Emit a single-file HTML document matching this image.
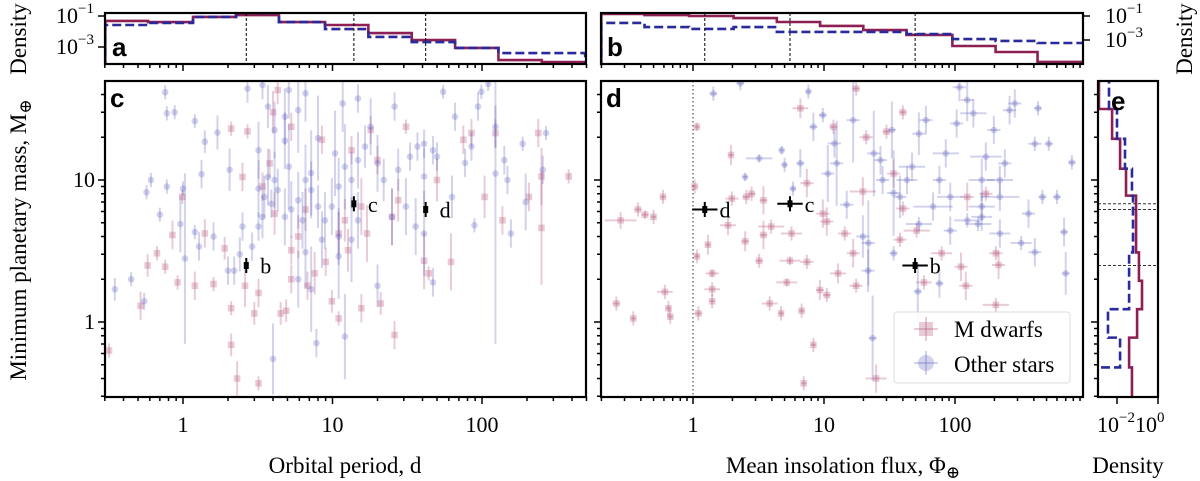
<!DOCTYPE html>
<html><head><meta charset="utf-8"><style>
html,body{margin:0;padding:0;background:#fff;}
svg{display:block;font-family:"Liberation Serif","DejaVu Serif",serif;}
svg text{font-family:"Liberation Serif","DejaVu Serif",serif;fill:#000;}
svg text.lt{font-family:"Liberation Sans","DejaVu Sans",sans-serif;font-weight:bold;}
</style></head><body>
<svg id="fig" width="1200" height="481" viewBox="0 0 1200 481" xmlns="http://www.w3.org/2000/svg" font-family="Liberation Serif, serif">
<defs>
<clipPath id="clipA"><rect x="105" y="13" width="481" height="51"/></clipPath>
<clipPath id="clipB"><rect x="601" y="13" width="482" height="51"/></clipPath>
<clipPath id="clipC"><rect x="105" y="81" width="481" height="316"/></clipPath>
<clipPath id="clipD"><rect x="601" y="81" width="482" height="316"/></clipPath>
<clipPath id="clipE"><rect x="1098" y="81" width="60" height="316"/></clipPath>
</defs>
<g id="layer"></g>
<text font-family="Liberation Serif, serif" transform="translate(26,240) rotate(-90)" text-anchor="middle" font-size="23">Minimum planetary mass, M<tspan font-size="17" dy="5">⊕</tspan></text>
<text font-family="Liberation Serif, serif" transform="translate(26,39) rotate(-90)" text-anchor="middle" font-size="23">Density</text>
<text font-family="Liberation Serif, serif" transform="translate(1192,39) rotate(-90)" text-anchor="middle" font-size="23">Density</text>
<text font-family="Liberation Serif, serif" x="345" y="473" text-anchor="middle" font-size="23">Orbital period, d</text>
<text font-family="Liberation Serif, serif" x="843" y="473" text-anchor="middle" font-size="23">Mean insolation flux, Φ<tspan font-size="17" dy="5">⊕</tspan></text>
<text font-family="Liberation Serif, serif" x="1128" y="473" text-anchor="middle" font-size="23">Density</text>
</svg>
<script>
// ---------- data ----------
const histEdgesA = [-0.52,-0.234,0.067,0.355,0.642,0.95,1.24,1.53,1.82,2.11,2.40,2.69]; // log10 period
const histMdwarfA = [-1.32,-1.39,-1.06,-0.94,-1.39,-1.58,-2.1,-2.55,-3.06,-3.84,-3.97]; // log10 density
const histOtherA = [-1.58,-1.45,-1.06,-0.81,-1.39,-1.84,-2.35,-2.68,-3.06,-3.39,-3.39];
const histEdgesB = [-0.70,-0.37,-0.03,0.31,0.64,0.97,1.30,1.63,1.98,2.31,2.63,2.98]; // log10 flux
const histMdwarfB = [-0.83,-0.92,-1.0,-1.17,-1.5,-1.83,-2.17,-2.58,-3.5,-4.0,-4.83];
const histOtherB = [-1.58,-1.92,-2.08,-1.92,-2.33,-2.33,-2.33,-2.5,-2.92,-3.08,-3.25];
const histEdgesE = [1.70,1.50,1.29,1.08,0.89,0.69,0.49,0.29,0.09,-0.11,-0.32,-0.53]; // log10 mass
const histMdwarfE = [-2.88,-2.24,-1.85,-1.56,-1.07,-1.07,-0.93,-0.78,-1.02,-1.41,-1.27];
const histOtherE = [-2.39,-2.0,-1.61,-1.27,-1.22,-1.22,-1.41,-1.41,-2.44,-1.85,-3.2];
const planetNames = ["b","c","d"];
const planetPeriod = [2.65,13.9,42];
const planetFlux = [49.6,5.5,1.23];
const planetMass = [2.5,6.8,6.2];
// [period, mass, massErrDex]
const otherC = [[0.76,41.5,0.05],[0.78,29.5,0.05],[0.88,30,0.05],[1.2,26,0.05],[1.7,21.6,0.12],[1.4,18.6,0.08],[1.33,11,0.1],[2.05,11.8,0.15],[0.61,10,0.05],[0.57,8.2,0.05],[0.78,9,0.05],[1.0,8.7,0.05],[0.7,5.7,0.05],[0.96,4.9,0.2],[1.2,4.3,0.05],[1.03,2.8,0.6],[0.45,2.0,0.05],[0.35,1.7,0.08],[0.55,1.4,0.06],[1.28,3.4,0.1],[1.6,4.0,0.1],[2.0,2.3,0.1],[2.2,2.3,0.1],[2.4,3.0,0.12],[2.9,3.4,0.1],[3.2,4.7,0.1],[3.4,5.5,0.15],[2.5,4.7,0.1],[3.2,8.7,0.2],[3.5,7.6,0.15],[3.7,10.5,0.2],[4.1,10,0.2],[4.3,8.5,0.15],[3.9,6.8,0.1],[4.8,5.5,0.2],[5.3,6.2,0.2],[5.9,7.2,0.2],[6.6,10,0.25],[7.2,8.5,0.2],[8.0,6.5,0.15],[8.9,5.2,0.2],[9.9,6.5,0.2],[11,9,0.2],[12.1,12.4,0.3],[13.4,10,0.2],[14.8,13.8,0.2],[16.5,17.2,0.15],[18,23.7,0.2],[20,13.1,0.2],[22,10,0.15],[14.8,5.2,0.2],[11,4.0,0.2],[8.5,3.8,0.2],[6.6,3.1,0.25],[5.9,2.0,0.2],[7.2,1.7,0.3],[12.1,0.79,0.3],[7.8,0.71,0.1],[4.0,0.55,0.25],[20,1.8,0.15],[27.5,11.8,0.15],[33,14.6,0.1],[37,17.2,0.1],[41,18,0.1],[47,16.2,0.1],[50,14.6,0.1],[41,10.6,0.2],[41,4.2,0.3],[66,27.9,0.1],[77,13.2,0.1],[85,17.2,0.1],[94,32.9,0.1],[99,41.8,0.05],[110,47.5,0.05],[123,23.7,0.15],[123,11.1,1.2],[141,13.8,0.1],[148,10,0.1],[156,4.2,0.1],[187,18,0.05],[268,21.4,0.05],[255,11.8,0.1],[196,7.0,0.2],[89,4.8,0.05],[55,41.8,0.05],[26,32.9,0.1],[14.8,37.5,0.1],[11.7,34.6,0.2],[6.6,40.8,0.2],[5.1,43,0.2],[3.4,46.6,0.1],[2.7,44,0.1],[3.7,32.9,0.15],[4.1,22.5,0.2],[4.8,27.9,0.2],[5.9,31,0.3],[8.0,19.7,0.3],[10.4,15.4,0.3],[4.8,18.9,0.2],[3.2,16.2,0.2],[5.1,12.4,0.3],[7.2,11.2,0.3],[6.3,5.2,0.2],[11,2.9,0.3],[13.4,3.8,0.3],[25,5.5,0.2],[31,6.5,0.2],[36,4.7,0.2],[47,1.9,0.1],[63,7.6,0.15]];
const mdwarfC = [[0.32,0.63,0.05],[0.52,1.3,0.1],[0.58,2.5,0.08],[0.67,3.05,0.05],[0.76,2.45,0.05],[0.85,4.1,0.1],[0.92,1.9,0.05],[0.99,7.6,0.05],[1.2,1.8,0.1],[1.4,4.2,0.1],[1.6,1.85,0.05],[1.9,3.3,0.08],[2.1,1.25,0.05],[2.1,0.69,0.08],[2.3,0.40,0.12],[2.1,23,0.05],[2.7,22,0.05],[2.5,10.5,0.1],[2.6,1.8,0.15],[3.0,1.15,0.08],[3.2,1.6,0.1],[3.2,0.37,0.05],[3.8,13.1,0.1],[4.0,30,0.15],[4.3,43,0.1],[4.5,1.15,0.08],[4.9,1.2,0.08],[5.3,2.0,0.1],[5.3,3.2,0.1],[5.9,4.0,0.15],[6.8,1.8,0.1],[7.6,2.2,0.15],[8.5,19.2,0.1],[9.0,2.65,0.1],[9.9,1.4,0.08],[11,1.06,0.05],[11,4.2,0.15],[12.1,5.2,0.15],[12.7,3.2,0.15],[13.4,16.2,0.1],[15.6,6.5,0.2],[15.6,1.25,0.1],[17,4.2,0.2],[18,22.5,0.1],[20,13.8,0.1],[21,1.35,0.08],[25,5.5,0.2],[26,0.81,0.1],[27.5,7.2,0.15],[31,23.7,0.05],[41,2.7,0.2],[44,2.2,0.05],[50,10,0.15],[62,2.65,0.2],[75,19.2,0.1],[85,21.4,0.1],[104,7.6,0.15],[123,21.4,0.1],[137,5.2,0.1],[206,7.6,0.1],[238,21.4,0.1],[250,10.6,0.2],[250,4.6,0.4],[380,10.6,0.05],[6.6,6.2,0.15],[5.3,23.7,0.1],[3.4,9,0.1],[4.1,5.8,0.15]];
// [flux, mass, massErrDex, fluxErrDex]
const mdwarfD = [[0.28,5.2,0.06,0.12],[0.26,1.35,0.05,0.03],[0.35,1.06,0.05,0.02],[0.38,6.2,0.05,0.03],[0.43,5.7,0.03,0.03],[0.5,5.5,0.05,0.02],[0.59,7.6,0.05,0.02],[0.61,1.63,0.05,0.06],[0.67,1.09,0.05,0.02],[0.65,1.25,0.05,0.02],[1.07,23.7,0.03,0.02],[1.03,9,0.05,0.02],[1.07,2.9,0.05,0.02],[1.1,1.15,0.05,0.03],[1.3,3.5,0.07,0.02],[1.4,2.2,0.03,0.05],[1.4,1.7,0.05,0.06],[1.4,1.4,0.05,0.02],[1.85,4.8,0.07,0.06],[1.95,15,0.07,0.02],[1.98,7.4,0.05,0.05],[2.5,3.7,0.07,0.03],[2.55,7.6,0.05,0.03],[2.8,8.0,0.05,0.03],[3.2,2.7,0.05,0.03],[3.45,7.2,0.1,0.03],[3.45,4.1,0.1,0.03],[3.85,1.35,0.05,0.06],[3.95,4.7,0.05,0.1],[4.7,1.15,0.05,0.02],[5.2,1.9,0.03,0.08],[5.5,2.7,0.03,0.08],[5.65,4.2,0.05,0.08],[6.6,32,0.07,0.06],[6.75,1.2,0.05,0.02],[7.4,9.5,0.1,0.05],[7.4,2.65,0.05,0.05],[8.3,0.69,0.05,0.02],[9.3,1.68,0.07,0.03],[9.8,5.8,0.1,0.05],[10.5,1.55,0.05,0.03],[10.5,5.1,0.1,0.05],[11.8,23.7,0.05,0.03],[12.8,2.2,0.07,0.06],[14.4,4.2,0.05,0.05],[16.7,3.05,0.1,0.05],[17.6,44,0.05,0.03],[17.6,1.8,0.05,0.05],[19.8,8.3,0.1,0.1],[21,20,0.05,0.05],[25,0.40,0.1,0.08],[30,21.9,0.05,0.03],[38,3.8,0.05,0.05],[40,6.3,0.05,0.05],[51,4.4,0.05,0.1],[58,1.9,0.05,0.06],[79,3.05,0.05,0.08],[111,2.45,0.1,0.05],[121,1.8,0.1,0.05],[124,7.6,0.1,0.05],[172,8.0,0.05,0.05],[205,3.05,0.05,0.05],[205,1.32,0.05,0.1],[215,2.52,0.1,0.05],[7.0,0.37,0.05,0.02],[34,11.1,0.1,0.05],[40,30,0.05,0.03]];
const otherD = [[1.43,40.6,0.05,0.03],[2.3,48,0.05,0.03],[3.2,14.2,0.03,0.1],[2.5,10.5,0.03,0.02],[4.75,16.2,0.03,0.02],[5.0,12.8,0.05,0.02],[5.8,8.7,0.05,0.02],[6.6,13.1,0.1,0.03],[7.6,42,0.05,0.02],[8.3,23.7,0.1,0.03],[9.8,28.6,0.05,0.03],[10.7,11.1,0.2,0.05],[12,18.1,0.1,0.05],[12.5,13.1,0.3,0.05],[14.9,6.7,0.1,0.05],[16.7,26.4,0.3,0.05],[19.8,4.0,0.15,0.05],[21.8,3.6,0.3,0.05],[24,15.4,0.3,0.05],[27,13.8,0.1,0.05],[28,10,0.1,0.05],[33,22.5,0.2,0.03],[34,8.1,0.3,0.05],[34,3.05,0.05,0.03],[38,7.6,0.15,0.05],[43,10,0.1,0.08],[47,12.4,0.1,0.1],[53,21.2,0.15,0.05],[60,26.4,0.1,0.05],[68,6.5,0.1,0.15],[76,10,0.1,0.05],[85,15.4,0.1,0.1],[92,4.4,0.1,0.05],[103,25,0.1,0.05],[108,45,0.1,0.05],[124,36.6,0.15,0.05],[138,29.5,0.1,0.1],[160,6.5,0.1,0.1],[172,14.6,0.1,0.12],[198,22.5,0.1,0.05],[220,10,0.1,0.1],[240,13.1,0.1,0.05],[261,31,0.1,0.05],[286,34.6,0.1,0.05],[320,3.6,0.05,0.08],[364,5.8,0.1,0.05],[407,3.1,0.1,0.05],[407,18,0.05,0.05],[430,32,0.05,0.03],[465,7.6,0.05,0.03],[520,18,0.05,0.03],[600,7.6,0.05,0.03],[680,4.3,0.1,0.03],[700,2.2,0.15,0.03],[780,13.3,0.05,0.03],[23.5,0.77,0.3,0.03],[21.7,2.3,0.15,0.05],[52,1.64,0.2,0.03],[76,1.87,0.1,0.03],[160,5.5,0.1,0.08],[220,4.2,0.1,0.08],[150,4.9,0.05,0.1],[124,5.2,0.05,0.1],[53,4.9,0.05,0.1],[92,7.6,0.1,0.1],[220,7.6,0.1,0.15],[160,10,0.15,0.1]];

// ---------- scales ----------
const L = Math.log10;
const xC = p => 183 + 149.5*L(p);
const xD = f => 693 + 131*L(f);
const yM = m => 322 - 142*L(m);
const yA = ld => 16 - 15.5*(ld+1);
const yB = ld => 16 - 12*(ld+1);
const xE = ld => 1117 + 20.5*(ld+2);
const xAe = le => 183 + 149.5*le;
const xBe = le => 693 + 131*le;
const yEe = le => 322 - 142*le;

const NS="http://www.w3.org/2000/svg";
const root=document.getElementById('layer');
const SERIF="Liberation Serif, serif";
function mk(tag,attrs,parent){const e=document.createElementNS(NS,tag);for(const k in attrs)e.setAttribute(k,attrs[k]);if(tag==='text'&&!attrs['font-family'])e.setAttribute('font-family',SERIF);(parent||root).appendChild(e);return e;}

const RED="#8e1f52", BLUE="#2a2a9c";
const PINK="rgba(176,70,110,0.28)", LBLUE="rgba(90,90,190,0.27)";

function panel(name,clip){const g=mk('g',{'clip-path':'url(#'+clip+')'});return g;}
const gA=panel('panel-a-period-histogram','clipA');
const gB=panel('panel-b-insolation-histogram','clipB');
const gC=panel('panel-c-mass-period-scatter','clipC');
const gD=panel('panel-d-mass-insolation-scatter','clipD');
const gE=panel('panel-e-mass-histogram','clipE');

function stepH(edges,vals,xf,yf,base,g,color,dash,name){
  let d='M'+xf(edges[0])+','+base;
  for(let i=0;i<vals.length;i++){d+=' L'+xf(edges[i])+','+yf(vals[i])+' L'+xf(edges[i+1])+','+yf(vals[i]);}
  d+=' L'+xf(edges[edges.length-1])+','+base;
  const p=mk('path',{d:d,fill:'none',stroke:color,'stroke-width':2.6,'stroke-dasharray':dash||'none'},g);
  
  
}
function stepV(edges,vals,yf,xf,base,g,color,dash,name){
  let d='M'+base+','+yf(edges[0]);
  for(let i=0;i<vals.length;i++){d+=' L'+xf(vals[i])+','+yf(edges[i])+' L'+xf(vals[i])+','+yf(edges[i+1]);}
  d+=' L'+base+','+yf(edges[edges.length-1]);
  const p=mk('path',{d:d,fill:'none',stroke:color,'stroke-width':2.6,'stroke-dasharray':dash||'none'},g);
  
  
}
stepH(histEdgesA,histMdwarfA,xAe,yA,70,gA,RED,null,'hist-a-m-dwarfs');
stepH(histEdgesA,histOtherA,xAe,yA,70,gA,BLUE,'9,4','hist-a-other-stars');
stepH(histEdgesB,histMdwarfB,xBe,yB,70,gB,RED,null,'hist-b-m-dwarfs');
stepH(histEdgesB,histOtherB,xBe,yB,70,gB,BLUE,'9,4','hist-b-other-stars');
stepV(histEdgesE,histMdwarfE,yEe,xE,1090,gE,RED,null,'hist-e-m-dwarfs');
stepV(histEdgesE,histOtherE,yEe,xE,1090,gE,BLUE,'9,4','hist-e-other-stars');

planetPeriod.forEach((p,i)=>{const l=mk('line',{x1:xC(p),x2:xC(p),y1:13,y2:64,stroke:'#000','stroke-width':1,'stroke-dasharray':'3,2'},gA);

});
planetFlux.forEach((f,i)=>{const l=mk('line',{x1:xD(f),x2:xD(f),y1:13,y2:64,stroke:'#000','stroke-width':1,'stroke-dasharray':'3,2'},gB);

});
planetMass.forEach((m,i)=>{const l=mk('line',{x1:1098,x2:1158,y1:yM(m),y2:yM(m),stroke:'#333','stroke-width':1,'stroke-dasharray':'3,2'},gE);

});
{const l=mk('line',{x1:xD(1),x2:xD(1),y1:81,y2:397,stroke:'#555','stroke-width':1.2,'stroke-dasharray':'1.5,2.5'},gD);

}

function pts(arr,xf,g,col,shape,name){
  arr.forEach(pt=>{
    const x=xf(pt[0]), y=yM(pt[1]), e=pt[2], ex=pt[3]||0;
    const grp=mk('g',{},g);
    
    
    mk('line',{x1:x,x2:x,y1:yM(pt[1]*Math.pow(10,e)),y2:yM(pt[1]/Math.pow(10,e)),stroke:col,'stroke-width':2},grp);
    if(ex>0) mk('line',{x1:xf(pt[0]/Math.pow(10,ex)),x2:xf(pt[0]*Math.pow(10,ex)),y1:y,y2:y,stroke:col,'stroke-width':2},grp);
    if(shape==='c') mk('circle',{cx:x,cy:y,r:3.3,fill:col},grp);
    else mk('rect',{x:x-3.3,y:y-3.3,width:6.6,height:6.6,fill:col},grp);
  });
}
pts(mdwarfC,xC,gC,PINK,'s','m-dwarf-point');
pts(otherC,xC,gC,LBLUE,'c','other-star-point');
pts(mdwarfD,xD,gD,PINK,'s','m-dwarf-point');
pts(otherD,xD,gD,LBLUE,'c','other-star-point');

function planet(x,y,ylo,yhi,xlo,xhi,label,g,name){
  const grp=mk('g',{},g);
  
  
  mk('line',{x1:x,x2:x,y1:ylo,y2:yhi,stroke:'#000','stroke-width':2},grp);
  if(xlo!==null) mk('line',{x1:xlo,x2:xhi,y1:y,y2:y,stroke:'#000','stroke-width':2},grp);
  mk('rect',{x:x-2.5,y:y-3.5,width:5,height:7,fill:'#000'},grp);
  const t=mk('text',{x:x+(xlo!==null?(xhi-x)+2:14),y:y+8,'font-size':22},grp);t.textContent=label;
}
planetPeriod.forEach((p,i)=>planet(xC(p),yM(planetMass[i]),yM(planetMass[i]*1.13),yM(planetMass[i]/1.13),null,null,planetNames[i],gC,'planet-'+planetNames[i]+'-period'));
planetFlux.forEach((f,i)=>planet(xD(f),yM(planetMass[i]),yM(planetMass[i]*1.13),yM(planetMass[i]/1.13),xD(f/1.25),xD(f*1.25),planetNames[i],gD,'planet-'+planetNames[i]+'-flux'));

function frame(x,y,w,h,name){const r=mk('rect',{x:x,y:y,width:w,height:h,fill:'none',stroke:'#000','stroke-width':2.2});}
frame(105,13,481,51,'panel-a-frame');frame(601,13,482,51,'panel-b-frame');
frame(105,81,481,316,'panel-c-frame');frame(601,81,482,316,'panel-d-frame');frame(1098,81,60,316,'panel-e-frame');

function tk(x1,y1,x2,y2){mk('line',{x1:x1,y1:y1,x2:x2,y2:y2,stroke:'#000','stroke-width':1.5});}
function logTicksX(xf,ybot,xmin,xmax,labels,ly){
  for(let dec=-2;dec<=3;dec++){for(let m=1;m<10;m++){const v=m*Math.pow(10,dec);const x=xf(v);if(x<xmin-0.5||x>xmax+0.5)continue;tk(x,ybot,x,ybot+(m===1?7:4));
    if(m===1&&labels){const t=mk('text',{x:x,y:ly,'text-anchor':'middle','font-size':22});t.textContent=String(v);}}}
}
logTicksX(xC,64,105,586,false);logTicksX(xC,397,105,586,true,432);
logTicksX(xD,64,601,1083,false);logTicksX(xD,397,601,1083,true,432);
function logTicksY(xleft,labels,lx){
  for(let dec=-1;dec<=1;dec++){for(let m=1;m<10;m++){const v=m*Math.pow(10,dec);const y=yM(v);if(y<81||y>397.5)continue;tk(xleft,y,xleft-(m===1?7:4),y);
    if(m===1&&labels){const t=mk('text',{x:lx,y:y+7,'text-anchor':'end','font-size':22});t.textContent=String(v);}}}
}
logTicksY(105,true,95);logTicksY(601,false);logTicksY(1098,false);
[-1,-3].forEach(ld=>{tk(105,yA(ld),98,yA(ld));const t=mk('text',{x:94,y:yA(ld)+7,'text-anchor':'end','font-size':22});t.innerHTML='10<tspan dy="-10" font-size="15">−'+(-ld)+'</tspan>';});
[-1,-3].forEach(ld=>{tk(1083,yB(ld),1090,yB(ld));const t=mk('text',{x:1105,y:yB(ld)+7,'text-anchor':'start','font-size':22});t.innerHTML='10<tspan dy="-10" font-size="15">−'+(-ld)+'</tspan>';});
[-2,0].forEach(ld=>{tk(xE(ld),397,xE(ld),404);});
{const t=mk('text',{x:1097,y:432,'font-size':22});t.innerHTML='10<tspan dy="-10" font-size="15">−2</tspan><tspan dy="10">10</tspan><tspan dy="-10" font-size="15">0</tspan>';}

[['a',112,56],['b',607,56],['c',110,107],['d',606,107],['e',1111,110]].forEach(a=>{const t=mk('text',{x:a[1],y:a[2],'font-size':26,'font-family':'Liberation Sans, sans-serif','font-weight':'bold',class:'lt'});t.textContent=a[0];});

const lg=mk('g',{});


mk('rect',{x:894,y:312,width:176,height:71,rx:3,fill:'rgba(255,255,255,0.85)',stroke:'#ddd','stroke-width':1},lg);
const e1=mk('g',{},lg);


mk('line',{x1:914,x2:938,y1:329,y2:329,stroke:PINK,'stroke-width':2},e1);mk('line',{x1:926,x2:926,y1:317,y2:341,stroke:PINK,'stroke-width':2},e1);
mk('rect',{x:919,y:322,width:14,height:14,fill:PINK},e1);
const t1=mk('text',{x:954,y:337,'font-size':23},e1);t1.textContent='M dwarfs';
const e2=mk('g',{},lg);


mk('line',{x1:914,x2:938,y1:363,y2:363,stroke:LBLUE,'stroke-width':2},e2);mk('line',{x1:926,x2:926,y1:351,y2:375,stroke:LBLUE,'stroke-width':2},e2);
mk('circle',{cx:926,cy:363,r:8,fill:LBLUE},e2);
const t2=mk('text',{x:954,y:372,'font-size':23},e2);t2.textContent='Other stars';
</script>
</body></html>
